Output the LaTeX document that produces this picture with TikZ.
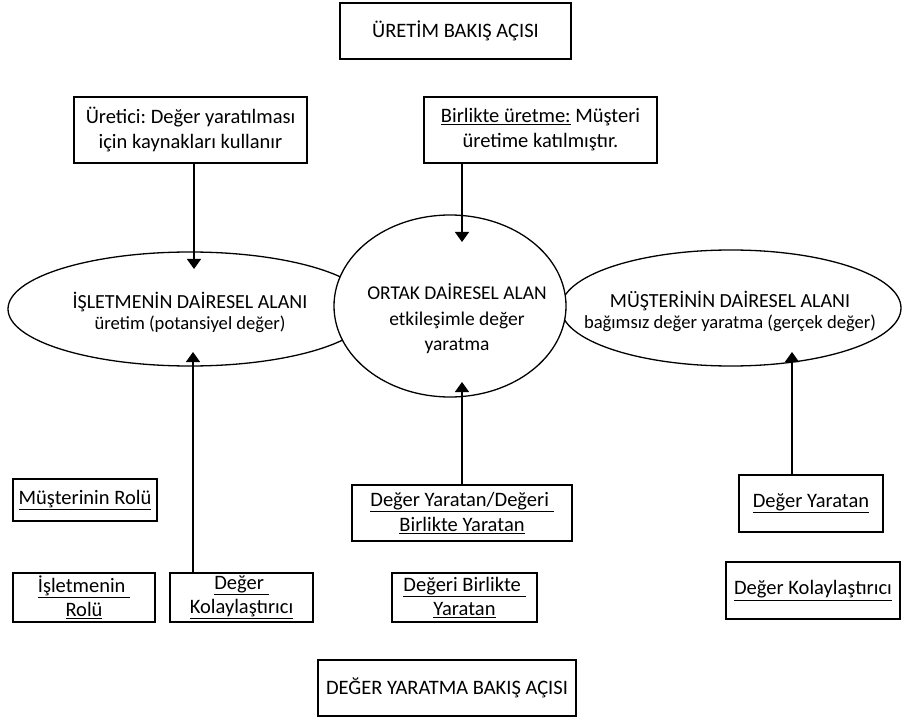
\documentclass[tikz,border=0pt]{standalone}
\usepackage{fontspec}
\setmainfont{Carlito}
\frenchspacing
\usetikzlibrary{shapes.geometric,arrows.meta}
\newcommand{\lineA}{\fontsize{20}{23}\selectfont}
\newcommand{\lineB}{\fontsize{18.6}{23}\selectfont}
\tikzset{
  box/.style={draw, line width=1.3pt, rectangle, inner sep=0pt, align=center,
    font=\fontsize{20.5}{25}\selectfont},
  oval/.style={draw, line width=1.3pt, ellipse, inner sep=0pt, fill=white},
  otext/.style={align=center, inner sep=0pt},
  arr/.style={line width=1.4pt, -{Triangle[width=14pt,length=10pt]}}
}
\begin{document}
\frenchspacing
\begin{tikzpicture}[x=1pt,y=-1pt]
\useasboundingbox (0,0) rectangle (902,719);
% top boxes
\node[box, minimum width=231pt, minimum height=56pt] (top) at (455.5,31) {ÜRETİM BAKIŞ AÇISI};
\node[box, minimum width=233pt, minimum height=66pt] (ur) at (190.5,130) {Üretici: Değer yaratılması\\ için kaynakları kullanır};
\node[box, minimum width=233pt, minimum height=66pt] (bu) at (540.5,130) {\underline{Birlikte üretme:} Müşteri\\ üretime katılmıştır.};
% ellipses
\node[oval, minimum width=364pt, minimum height=114pt] (le) at (190,309) {};
\node[oval, minimum width=340pt, minimum height=116pt] (re) at (731,308) {};
\node[oval, minimum width=232pt, minimum height=182pt] (ce) at (450,306) {};
\node[otext] (let) at (190,312) {\lineA İŞLETMENİN DAİRESEL ALANI\\[3pt] \lineB üretim (potansiyel değer)};
\node[otext] (ret) at (730,311) {\lineA MÜŞTERİNİN DAİRESEL ALANI\\[3pt] \lineB bağımsız değer yaratma (gerçek değer)};
\node[otext, font=\fontsize{19.5}{25.5}\selectfont] (cet) at (457,319) {ORTAK DAİRESEL ALAN\\ etkileşimle değer\\ yaratma};
% bottom boxes
\node[box, minimum width=144pt, minimum height=42pt] (mr) at (85,500) {\underline{Müşterinin Rolü}};
\node[box, minimum width=142pt, minimum height=49pt, font=\fontsize{20.5}{24}\selectfont] (ir) at (84,597.5) {\underline{İşletmenin\ }\\ \underline{Rolü}};
\node[box, minimum width=143pt, minimum height=49pt, font=\fontsize{20.5}{24}\selectfont] (dk) at (241.5,597.5) {\underline{Değer\ }\\ \underline{Kolaylaştırıcı}};
\node[box, minimum width=220pt, minimum height=56pt, font=\fontsize{20.5}{25}\selectfont] (dy) at (462,513) {\underline{Değer Yaratan/Değeri\ }\\ \underline{Birlikte Yaratan}};
\node[box, minimum width=145pt, minimum height=49pt, font=\fontsize{20.5}{24}\selectfont] (db) at (464.5,597.5) {\underline{Değeri Birlikte\ }\\ \underline{Yaratan}};
\node[box, minimum width=144pt, minimum height=57pt] (ry) at (811,503.5) {\underline{Değer Yaratan}};
\node[box, minimum width=174pt, minimum height=57pt] (rk) at (813,590.5) {\underline{Değer Kolaylaştırıcı}};
\node[box, minimum width=258pt, minimum height=56pt] (bot) at (447,688) {DEĞER YARATMA BAKIŞ AÇISI};
% arrow tips
\coordinate (t1) at (194,269);
\coordinate (t2) at (462,242);
\coordinate (t3) at (193,352);
\coordinate (t4) at (462,382);
\coordinate (t5) at (792,352);
\draw[arr] (t1 |- ur.south) -- (t1);
\draw[arr] (t2 |- bu.south) -- (t2);
\draw[arr] (t3 |- dk.north) -- (t3);
\draw[arr] (t4 |- dy.north) -- (t4);
\draw[arr] (t5 |- ry.north) -- (t5);
\end{tikzpicture}
\end{document}
